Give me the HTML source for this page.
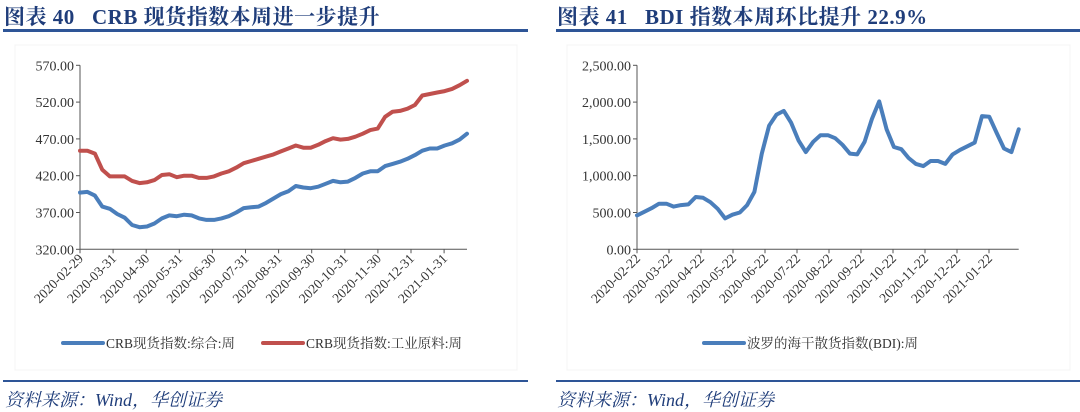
<!DOCTYPE html>
<html><head><meta charset="utf-8"><style>
body{margin:0;background:#fff;width:1080px;height:409px;overflow:hidden;position:relative;font-family:"Liberation Serif","Noto Serif CJK SC",serif}
.t{position:absolute;top:1px;font-size:21px;font-weight:bold;color:#1f3d7a;letter-spacing:0.5px}
.ln{position:absolute;height:3px;background:#2e5597}
.src{position:absolute;top:386px;font-size:18px;font-style:italic;color:#1f3d7a}
svg{position:absolute;left:0;top:0}
</style></head><body>
<div class="t" style="left:4px">图表 40&nbsp;&nbsp; CRB 现货指数本周进一步提升</div>
<div class="t" style="left:557px">图表 41&nbsp;&nbsp; BDI 指数本周环比提升 22.9%</div>
<div class="ln" style="left:3px;width:525px;top:29px"></div>
<div class="ln" style="left:556px;width:524px;top:29px"></div>
<div class="ln" style="left:3px;width:525px;top:380px;height:2px"></div>
<div class="ln" style="left:556px;width:524px;top:380px;height:2px"></div>
<div class="src" style="left:5px">资料来源：Wind，华创证券</div>
<div class="src" style="left:557px">资料来源：Wind，华创证券</div>
<svg id="s" width="1080" height="409"></svg>
<script>
const crbTicks=["320.00","370.00","420.00","470.00","520.00","570.00"];
const crbTickVals=[320,370,420,470,520,570];
const crbDates=["2020-02-29","2020-03-31","2020-04-30","2020-05-31","2020-06-30","2020-07-31","2020-08-31","2020-09-30","2020-10-31","2020-11-30","2020-12-31","2021-01-31"];
const crbComposite=[397,398,393,378,375,368,363,353,350,351,355,362,366,365,367,366,362,360,360,362,365,370,376,377,378,383,389,395,399,406,404,403,405,409,413,411,412,417,423,426,426,433,436,439,443,448,454,457,457,461,464,469,477];
const crbIndustrial=[454,454,450,428,419,419,419,413,410,411,414,421,422,418,420,420,417,417,419,423,426,431,437,440,443,446,449,453,457,461,458,458,462,467,471,469,470,473,477,482,484,500,507,508,511,516,529,531,533,535,538,543,549];
const bdiTicks=["0.00","500.00","1,000.00","1,500.00","2,000.00","2,500.00"];
const bdiTickVals=[0,500,1000,1500,2000,2500];
const bdiDates=["2020-02-22","2020-03-22","2020-04-22","2020-05-22","2020-06-22","2020-07-22","2020-08-22","2020-09-22","2020-10-22","2020-11-22","2020-12-22","2021-01-22"];
const bdiValues=[460,510,560,620,620,580,600,610,710,700,640,550,420,470,500,600,780,1300,1680,1830,1880,1720,1480,1320,1460,1550,1550,1510,1420,1300,1290,1460,1770,2010,1630,1390,1360,1240,1160,1130,1200,1200,1160,1290,1350,1400,1450,1810,1800,1580,1370,1320,1630];

const NS="http://www.w3.org/2000/svg",S=document.getElementById('s');
function mk(t,a,txt){const e=document.createElementNS(NS,t);for(const k in a)e.setAttribute(k,a[k]);if(txt!==undefined)e.textContent=txt;S.appendChild(e);return e;}

function chart(o){
  const y=v=>o.y0-(v-o.vmin)/(o.vmax-o.vmin)*(o.y0-o.y1);
  const n=o.series[0].vals.length;
  const x=i=>o.x0+i*(o.x1-o.x0)/(n-1);
  const frame=mk('rect',{x:o.fx,y:45,width:o.fw,height:325,fill:'none',stroke:'#f4f4f4'});
  
  
  const ya=mk('line',{x1:o.x0,y1:o.y1,x2:o.x0,y2:o.y0,stroke:'#555','stroke-width':1});
  
  
  const xa=mk('line',{x1:o.x0,y1:o.y0,x2:o.x1,y2:o.y0,stroke:'#555','stroke-width':1});
  
  
  o.tickVals.forEach((v,i)=>{
    mk('line',{x1:o.x0-4,y1:y(v),x2:o.x0,y2:y(v),stroke:'#555'});
    const t=mk('text',{x:o.x0-6,y:y(v)+5,'text-anchor':'end','font-size':14,fill:'#333'},o.ticks[i]);
    
    
  });
  o.dates.forEach((d,i)=>{
    const tx=o.x0+i*o.dstep;
    mk('line',{x1:tx,y1:o.y0,x2:tx,y2:o.y0+4,stroke:'#555'});
    const t=mk('text',{x:tx+4,y:o.y0+10,'text-anchor':'end','font-size':13.5,fill:'#333',transform:`rotate(-45 ${tx+4} ${o.y0+10})`},d);
    
    
  });
  o.series.forEach(s=>{
    const p=mk('polyline',{points:s.vals.map((v,i)=>x(i).toFixed(1)+','+y(v).toFixed(1)).join(' '),fill:'none',stroke:s.c,'stroke-width':4,'stroke-linejoin':'round','stroke-linecap':'round'});
    
    
    const l=mk('line',{x1:s.lx,y1:343,x2:s.lx+40,y2:343,stroke:s.c,'stroke-width':4,'stroke-linecap':'round'});
    
    
    const t=mk('text',{x:s.lx+43,y:348,'font-size':13.5,fill:'#333'},s.label);
    
    
  });
}
chart({p:'crb',x0:80,x1:467,y0:249.3,y1:65.3,vmin:320,vmax:570,ticks:crbTicks,tickVals:crbTickVals,dates:crbDates,dstep:33.1,fx:15,fw:502,
  series:[{vals:crbComposite,c:'#4a7ebb',name:'crb-composite',label:'CRB现货指数:综合:周',lx:63},
          {vals:crbIndustrial,c:'#c0504d',name:'crb-industrial',label:'CRB现货指数:工业原料:周',lx:263}]});
chart({p:'bdi',x0:637,x1:1018.7,y0:249.3,y1:65.3,vmin:0,vmax:2500,ticks:bdiTicks,tickVals:bdiTickVals,dates:bdiDates,dstep:32,fx:567,fw:503,
  series:[{vals:bdiValues,c:'#4a7ebb',name:'bdi',label:'波罗的海干散货指数(BDI):周',lx:704}]});
</script>
</body></html>
